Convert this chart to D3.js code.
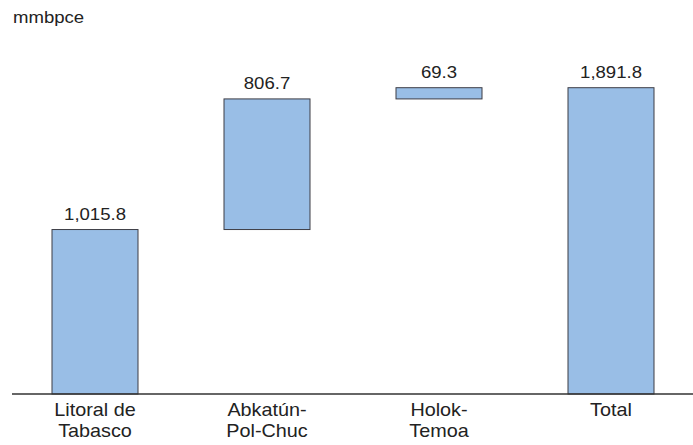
<!DOCTYPE html>
<html>
<head>
<meta charset="utf-8">
<script src="https://cdn.jsdelivr.net/npm/d3@7"></script>
<style>
  html, body { margin: 0; padding: 0; background: #fff; }
  svg { display: block; font-family: "Liberation Sans", Arial, sans-serif; }
</style>
</head>
<body>
<svg id="chart" width="693" height="445"></svg>
<script>
const categories = [["Litoral de", "Tabasco"], ["Abkatún-", "Pol-Chuc"], ["Holok-", "Temoa"], ["Total"]];
const values = [1015.8, 806.7, 69.3, 1891.8];
const isTotal = [false, false, false, true];
const valueLabels = ["1,015.8", "806.7", "69.3", "1,891.8"];
const unitLabel = "mmbpce";

const svg = d3.select("#chart");
const SX = 1.16;   // horizontal stretch of value / unit text
const SXC = 1.1;   // horizontal stretch of category text

let running = 0;
const bars = values.map((v, i) => {
  let start, end;
  if (isTotal[i]) { start = 0; end = v; }
  else { start = running; end = running + v; running = end; }
  return { i, start, end, label: valueLabels[i], cat: categories[i] };
});

const x = d3.scaleBand()
  .domain(d3.range(categories.length))
  .range([9, 697])
  .paddingInner(0.5)
  .paddingOuter(0.25);

const y = d3.scaleLinear()
  .domain([0, 1891.8])
  .range([394, 87.7]);

svg.append("text")
  .attr("transform", `translate(13,23) scale(${SX},1)`)
  .attr("font-size", 16)
  .attr("fill", "#222")
  .text(unitLabel);

svg.selectAll("rect.bar")
  .data(bars)
  .enter().append("rect")
  .attr("class", "bar")
  .attr("x", d => x(d.i))
  .attr("width", x.bandwidth())
  .attr("y", d => y(Math.max(d.start, d.end)))
  .attr("height", d => Math.abs(y(d.start) - y(d.end)))
  .attr("fill", "#99bee6")
  .attr("stroke", "#3d3d45")
  .attr("stroke-width", 1);

svg.selectAll("text.val")
  .data(bars)
  .enter().append("text")
  .attr("class", "val")
  .attr("transform", d => `translate(${x(d.i) + x.bandwidth() / 2},${y(Math.max(d.start, d.end)) - 9.5}) scale(${SX},1)`)
  .attr("text-anchor", "middle")
  .attr("font-size", 16)
  .attr("fill", "#222")
  .text(d => d.label);

svg.append("line")
  .attr("x1", 12).attr("x2", 693)
  .attr("y1", y(0)).attr("y2", y(0))
  .attr("stroke", "#333")
  .attr("stroke-width", 1.5);

const catG = svg.selectAll("g.cat")
  .data(bars)
  .enter().append("g")
  .attr("class", "cat")
  .attr("transform", d => `translate(${x(d.i) + x.bandwidth() / 2},0) scale(${SXC},1)`);
catG.selectAll("text")
  .data(d => d.cat.map((t, k) => ({ t, k })))
  .enter().append("text")
  .attr("x", 0)
  .attr("y", d => 416.5 + d.k * 21)
  .attr("text-anchor", "middle")
  .attr("font-size", 18)
  .attr("fill", "#222")
  .text(d => d.t);
</script>
</body>
</html>
